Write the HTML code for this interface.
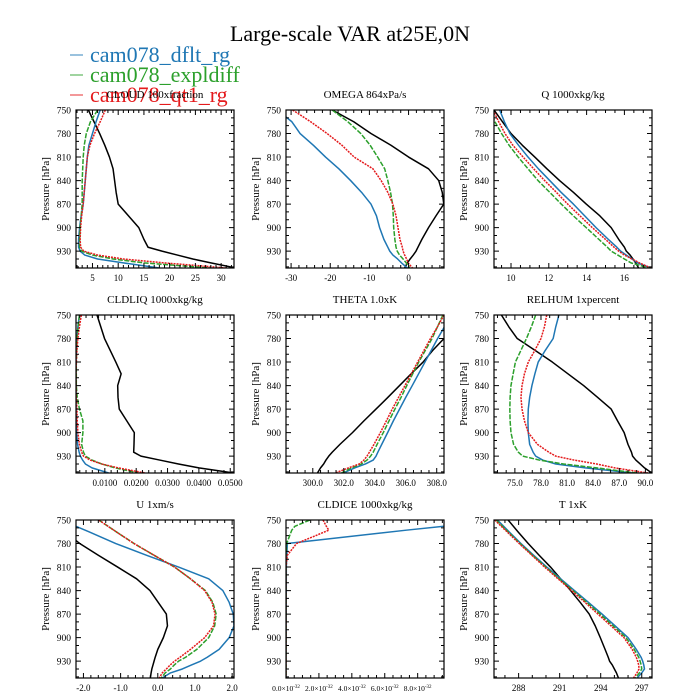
<!DOCTYPE html>
<html><head><meta charset="utf-8">
<style>
html,body{margin:0;padding:0;background:#fff;}
svg{display:block;font-family:"Liberation Serif",serif;}
</style></head>
<body>
<svg id="chart" width="700" height="700" viewBox="0 0 700 700" xmlns="http://www.w3.org/2000/svg">
<rect width="700" height="700" fill="#fff"/>
<text x="350" y="41" text-anchor="middle" font-size="22">Large-scale VAR at25E,0N</text>
<g id="legend">
<g><line x1="70" y1="55" x2="83" y2="55" stroke="#1f77b4" stroke-opacity="0.6" stroke-width="1.5"/><text x="90" y="62" font-size="22" fill="#1f77b4">cam078_dflt_rg</text></g>
<g><line x1="70" y1="75" x2="83" y2="75" stroke="#2ca02c" stroke-opacity="0.6" stroke-width="1.5"/><text x="90" y="82" font-size="22" fill="#2ca02c">cam078_expldiff</text></g>
<g><line x1="70" y1="95" x2="83" y2="95" stroke="#e41a1c" stroke-opacity="0.6" stroke-width="1.5"/><text x="90" y="102" font-size="22" fill="#e41a1c">cam078_qt1_rg</text></g>
</g>
<g id="panels"></g>
</svg>
<script>
const levels = [750,765,780,795,810,825,840,855,870,885,900,915,925,930,935,940,945,951.5];
const iceLevels = [750,758,763,780,795,810,951.5];
const seriesNames = ['obs','dflt','expldiff','qt1'];

const cloudObs = [4.2,5.3,6.4,7.4,8.3,9.0,9.3,9.6,10.0,12.0,14.0,15.0,15.8,18.5,21.5,24.5,28,32.9];
const cloudDflt = [6.5,5.7,5.0,4.3,4.0,3.8,3.6,3.4,3.2,2.8,2.5,2.3,2.3,2.6,3.5,6,11,18];
const cloudExpl = [6,4.6,3.8,3.4,3.2,3.1,3.0,3.0,3.0,2.8,2.6,2.5,2.5,2.9,5,9,15,28];
const cloudQt1 = [7.5,6.5,5.4,4.5,4.0,3.8,3.6,3.4,3.2,2.9,2.7,2.6,2.7,3.3,6,11,19,31];

const omegaObs = [-19.5,-14,-9.6,-4.5,0,5.1,7.7,8.6,9.0,7.0,5.1,3.4,2.4,1.9,1.2,0.4,-0.3,-1.0];
const omegaDflt = [-33.5,-29.8,-27.7,-24.3,-21.2,-17.8,-14.8,-12,-9.6,-8.2,-7.4,-6.3,-5.3,-4.8,-4,-2.8,-1.8,-0.3];
const omegaExpl = [-19.5,-15.5,-12.2,-9.8,-7.9,-6.1,-5.3,-4.6,-4.1,-3.9,-3.8,-3.5,-3.2,-2.9,-2.3,-1.4,-0.6,0.3];
const omegaQt1 = [-29.6,-25,-20.8,-17,-13.9,-9.1,-7,-5.3,-4,-3.2,-2.7,-2.2,-1.6,-1.4,-1.0,-0.5,-0.1,1];

const qObs = [9.1,9.55,10.0,10.6,11.26,11.9,12.57,13.3,13.98,14.7,15.3,15.7,16.0,16.1,16.3,16.45,16.6,16.75];
const qDflt = [9.4,9.65,9.94,10.4,10.9,11.45,12.05,12.65,13.3,13.9,14.5,15.15,15.6,15.8,16.1,16.4,16.7,17.4];
const qExpl = [8.85,9.15,9.5,9.9,10.38,10.9,11.43,12.05,12.66,13.3,13.98,14.65,15.1,15.3,15.65,16.0,16.35,17.3];
const qQt1 = [9.05,9.35,9.68,10.1,10.64,11.2,11.78,12.4,13.0,13.65,14.3,15.0,15.45,15.7,16.0,16.4,16.8,17.4];

const liqObs = [.0075,.0087,.0099,.0117,.0135,.0152,.0141,.0142,.0146,.017,.0194,.0193,.0192,.0215,.0275,.0335,.04,.0511];
const liqDflt = [.0019,.0014,.0011,.0009,.0008,.0008,.0008,.0008,.0008,.0009,.0010,.0013,.0018,.0022,.0029,.0038,.0059,.0112];
const liqExpl = [.0019,.0015,.0011,.0010,.0009,.0009,.0009,.0012,.0019,.0030,.0030,.0026,.0032,.0038,.0059,.0090,.0133,.0207];
const liqQt1 = [.0025,.0019,.0014,.0011,.0009,.0008,.0008,.0009,.0011,.0012,.0014,.0019,.0026,.0032,.0053,.0090,.0143,.0228];

const thetaObs = [309.9,309.2,308.47,307.75,307.12,306.35,305.6,304.85,304.08,303.3,302.56,301.75,301.25,301.03,300.85,300.7,300.5,300.3];
const thetaDflt = [308.9,308.5,308.06,307.65,307.24,306.83,306.42,306.0,305.6,305.2,304.83,304.45,304.2,304.08,303.9,303.4,302.7,301.97];
const thetaExpl = [308.4,308.05,307.7,307.27,306.84,306.45,306.07,305.7,305.3,304.92,304.55,304.15,303.9,303.73,303.5,303.14,302.5,301.85];
const thetaQt1 = [308.47,308.05,307.6,307.18,306.77,306.36,305.95,305.54,305.13,304.75,304.36,303.95,303.65,303.5,303.3,303.0,302.3,301.45];

const rhObs = [73.45,74.3,75.27,77.3,79.3,81.1,82.9,84.5,86.07,86.8,87.56,88.0,88.4,88.53,88.9,89.4,89.9,90.74];
const rhDflt = [80.06,79.7,79.4,78.5,77.68,77.3,76.96,76.7,76.54,76.5,76.54,76.7,77.1,77.39,78.2,79.7,83.1,88.6];
const rhExpl = [77.39,76.9,76.33,75.7,75.06,74.8,74.55,74.45,74.42,74.45,74.55,74.85,75.4,75.9,77.8,80.6,84.4,89.0];
const rhQt1 = [78.66,78.4,78.0,77.3,76.54,76.1,75.82,75.7,75.82,76.1,76.54,77.6,78.9,79.7,81.8,84.4,86.5,90.3];

const uObs = [-2.9,-2.5,-2.1,-1.6,-1.08,-0.57,-0.21,0.01,0.23,0.26,0.15,0.0,-0.07,-0.1,-0.13,-0.16,-0.18,-0.2];
const uDflt = [-2.6,-1.85,-1.13,-0.3,0.56,1.37,1.75,1.92,2.03,2.05,1.92,1.65,1.33,1.15,0.9,0.66,0.34,0.12];
const uExpl = [-1.59,-1.12,-0.64,-0.1,0.45,0.88,1.28,1.48,1.57,1.53,1.37,1.05,0.75,0.56,0.44,0.34,0.2,0.09];
const uQt1 = [-1.59,-1.12,-0.64,-0.1,0.45,0.88,1.26,1.46,1.54,1.5,1.26,0.88,0.6,0.45,0.33,0.23,0.12,0.04];

const iceObs = [null,null,null,null,null,null,null];
const iceDflt = [13.2,9.6,7.3,0.08,0.05,0.02,0];
const iceExpl = [1.45,0.54,0.35,0.04,0,0,0];
const iceQt1 = [2.25,2.45,2.6,0.64,0.08,0,0];

const tObs = [287.23,287.95,288.7,289.5,290.33,291.07,291.8,292.5,293.16,293.6,293.97,294.32,294.55,294.65,294.85,295.0,295.15,295.3];
const tDflt = [286.45,287.3,288.17,289.1,290.06,291.07,292.08,293.1,294.1,295.05,296.0,296.6,296.95,297.07,297.15,297.2,297.0,296.66];
const tExpl = [286.35,287.22,288.1,289.03,289.98,290.97,291.97,292.97,293.95,294.9,295.85,296.45,296.78,296.88,296.96,297.0,296.83,296.53];
const tQt1 = [286.25,287.15,288.04,288.97,289.9,290.88,291.87,292.85,293.8,294.75,295.7,296.3,296.6,296.7,296.78,296.8,296.65,296.4];

const yTicks = [750,780,810,840,870,900,930];
const xTicks1 = [5,10,15,20,25,30];
const xTicks2 = [-30,-20,-10,0];
const xTicks3 = [10,12,14,16];
const xTicks4 = [0.01,0.02,0.03,0.04,0.05];
const xTicks5 = [300,302,304,306,308];
const xTicks6 = [75,78,81,84,87,90];
const xTicks7 = [-2,-1,0,1,2];
const xTicks8 = [0,2,4,6,8];
const xTicks9 = [288,291,294,297];

const colors = {obs:'#000',dflt:'#1f77b4',expldiff:'#2ca02c',qt1:'#e41a1c'};
const dashes = {obs:'',dflt:'',expldiff:'5,1.5',qt1:'2,1'};

const panels = [
 {name:'cloud',title:'CLOUD  100xfraction',col:0,row:0,xmin:1.8,xmax:32.5,ticks:xTicks1,minor:1,fmt:v=>String(v),lev:levels,data:[cloudObs,cloudDflt,cloudExpl,cloudQt1]},
 {name:'omega',title:'OMEGA  864xPa/s',col:1,row:0,xmin:-31.3,xmax:9.05,ticks:xTicks2,minor:2,fmt:v=>String(v),lev:levels,data:[omegaObs,omegaDflt,omegaExpl,omegaQt1]},
 {name:'q',title:'Q  1000xkg/kg',col:2,row:0,xmin:9.1,xmax:17.46,ticks:xTicks3,minor:0.5,fmt:v=>String(v),lev:levels,data:[qObs,qDflt,qExpl,qQt1]},
 {name:'cldliq',title:'CLDLIQ  1000xkg/kg',col:0,row:1,xmin:0.0008,xmax:0.0512,ticks:xTicks4,minor:0.002,fmt:v=>v.toFixed(4),lev:levels,data:[liqObs,liqDflt,liqExpl,liqQt1]},
 {name:'theta',title:'THETA  1.0xK',col:1,row:1,xmin:298.27,xmax:308.47,ticks:xTicks5,minor:0.5,fmt:v=>v.toFixed(1),lev:levels,data:[thetaObs,thetaDflt,thetaExpl,thetaQt1]},
 {name:'relhum',title:'RELHUM  1xpercent',col:2,row:1,xmin:72.6,xmax:90.76,ticks:xTicks6,minor:1,fmt:v=>v.toFixed(1),lev:levels,data:[rhObs,rhDflt,rhExpl,rhQt1]},
 {name:'u',title:'U  1xm/s',col:0,row:2,xmin:-2.2,xmax:2.05,ticks:xTicks7,minor:0.2,fmt:v=>v.toFixed(1),lev:levels,data:[uObs,uDflt,uExpl,uQt1]},
 {name:'cldice',title:'CLDICE  1000xkg/kg',col:1,row:2,xmin:0,xmax:9.6,ticks:xTicks8,minor:0.5,fmt:null,lev:iceLevels,data:[iceObs,iceDflt,iceExpl,iceQt1]},
 {name:'t',title:'T  1xK',col:2,row:2,xmin:286.2,xmax:297.75,ticks:xTicks9,minor:1,fmt:v=>String(v),lev:levels,data:[tObs,tDflt,tExpl,tQt1]}
];

const lefts = [76,286,494], tops = [110,315,520], W = 158, H = 158;
const pTop = 750, pBot = 951.5;
const NS = 'http://www.w3.org/2000/svg';
const root = document.getElementById('panels');
function mk(tag, attrs, parent){const e=document.createElementNS(NS,tag);for(const k in attrs)e.setAttribute(k,attrs[k]);parent.appendChild(e);return e;}

panels.forEach((pn,idx)=>{
  const L = lefts[pn.col], T = tops[pn.row];
  const xs = v => L + (v - pn.xmin)/(pn.xmax - pn.xmin)*W;
  const ys = p => T + (p - pTop)/(pBot - pTop)*H;
  const g = mk('g',{},root);
  
  
  const title = mk('text',{x:L+W/2,y:T-12,'text-anchor':'middle','font-size':'11'},g);
  title.textContent = pn.title;
  
  
  const yl = mk('text',{x:0,y:0,'text-anchor':'middle','font-size':'11',transform:`translate(${L-27},${T+H/2}) rotate(-90)`},g);
  yl.textContent = 'Pressure [hPa]';
  
  
  // clip
  const cp = mk('clipPath',{id:'clip'+idx},g);
  mk('rect',{x:L,y:T,width:W,height:H},cp);
  // series
  const sg = mk('g',{'clip-path':`url(#clip${idx})`},g);
  pn.data.forEach((arr,si)=>{
    const nm = seriesNames[si];
    let d=''; let pen=false;
    arr.forEach((v,i)=>{
      if(v===null){pen=false;return;}
      d += (pen?'L':'M') + xs(v).toFixed(2) + ',' + ys(pn.lev[i]).toFixed(2);
      pen=true;
    });
    if(!d) return;
    const path = mk('path',{d:d,fill:'none',stroke:colors[nm],'stroke-width':'1.5','stroke-dasharray':dashes[nm],'stroke-linejoin':'round'},sg);
    
    
  });
  // frame
  const fr = mk('rect',{x:L,y:T,width:W,height:H,fill:'none',stroke:'#000','stroke-width':'1.2'},g);
  
  
  // y ticks
  let tk='';
  for(let p=750;p<=950;p+=10){
    const y=ys(p); const major = yTicks.includes(p); const len = major?5:3;
    tk += `M${L},${y}h${len}M${L+W},${y}h${-len}`;
  }
  // x ticks
  const m0 = Math.ceil(pn.xmin/pn.minor - 1e-9);
  for(let k=m0;k*pn.minor<=pn.xmax+1e-12;k++){
    const v=k*pn.minor; const x=xs(v);
    const major = pn.ticks.some(t=>Math.abs(t-v)<pn.minor/10);
    const len = major?5:3;
    tk += `M${x},${T+H}v${-len}M${x},${T}v${len}`;
  }
  const tp = mk('path',{d:tk,stroke:'#000','stroke-width':'1',fill:'none'},g);
  
  
  yTicks.forEach(p=>{
    const t = mk('text',{x:L-5,y:ys(p)+3.5,'text-anchor':'end','font-size':'9.5'},g);
    t.textContent = String(p);
    
    
  });
  pn.ticks.forEach(v=>{
    const t = mk('text',{x:xs(v),y:T+H+13,'text-anchor':'middle','font-size': pn.fmt? '9':'7.5'},g);
    if(pn.fmt){ t.textContent = pn.fmt(v); }
    else {
      t.textContent = v.toFixed(1) + '\u00d710';
      const s = mk('tspan',{dy:'-3','font-size':'5'},t);
      s.textContent = '-32';
    }
    
    
  });
});
</script>
</body></html>
